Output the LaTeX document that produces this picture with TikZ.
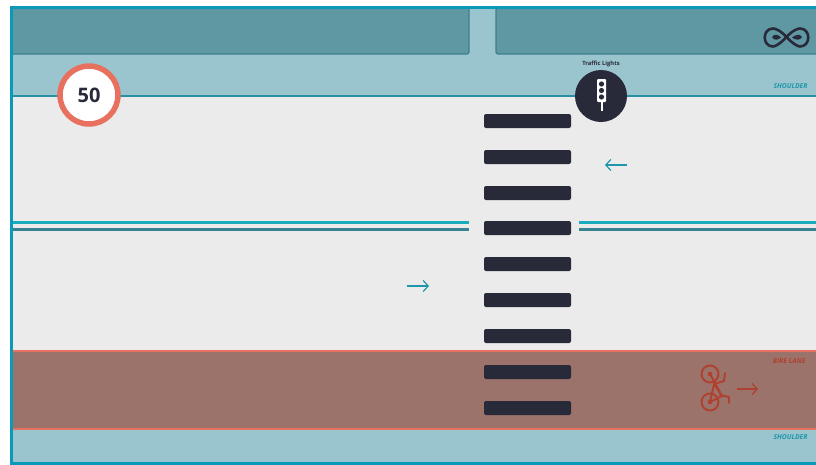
\documentclass[tikz,border=0pt]{standalone}
\usepackage{fontspec}
\setmainfont{Open Sans}
\usepackage{xcolor}
\usetikzlibrary{arrows.meta}
\definecolor{frameteal}{HTML}{0A9AB8}
\definecolor{verge}{HTML}{5F97A3}
\definecolor{vergeedge}{HTML}{3C7F8C}
\definecolor{shoulderfill}{HTML}{9AC5CE}
\definecolor{roadfill}{HTML}{EBEBEB}
\definecolor{bikefill}{HTML}{9B736B}
\definecolor{bikeedge}{HTML}{E8705F}
\definecolor{bikeink}{HTML}{B0402F}
\definecolor{barink}{HTML}{282A3A}
\definecolor{laneteal}{HTML}{1E97AB}
\tikzset{
    zebrabar/.style={fill=barink,rounded corners=2pt},
    lanearrow/.style={-{Straight Barb[length=5pt,width=11pt]},draw=laneteal,line width=1.2pt},
    tag/.style={font=\bfseries\itshape\fontsize{6.8}{7}\selectfont,anchor=east},
}
\begin{document}
\begin{tikzpicture}[x=1pt,y=-1pt]
            \useasboundingbox (0,0) rectangle (816,464);
            \fill[shoulderfill] (11,8) rectangle (816,462);
            \fill[roadfill] (11,96) rectangle (816,351);
            % verge panels
            \draw[fill=verge,draw=vergeedge,line width=1.2pt,rounded corners=2pt] (10,8) -- (469,8) -- (469,54) -- (10,54);
            \draw[fill=verge,draw=vergeedge,line width=1.2pt,rounded corners=2pt] (817,8) -- (496,8) -- (496,54) -- (817,54);
            \draw[laneteal!70!vergeedge,line width=2pt] (11,96) -- (816,96);
            % bike lane
            \fill[bikefill] (11,351) rectangle (816,429);
            \draw[bikeedge,line width=2.6pt] (11,351) -- (816,351);
            \draw[bikeedge,line width=2.6pt] (11,429) -- (816,429);
            % centre lines
            \foreach \xa/\xb in {11/469,579/816} {
                \draw[laneteal!80!cyan,line width=3pt] (\xa,222.5) -- (\xb,222.5);
                \draw[vergeedge!80!laneteal,line width=3pt] (\xa,229.5) -- (\xb,229.5);
            }
            % frame
            \draw[frameteal,line width=3pt] (817,7) -- (11,7) -- (11,463) -- (817,463);
            % zebra crossing
            \foreach \yb in {121,157,193,228,264,300,336,372,408} {
                \fill[zebrabar] (484,\yb-7) rectangle (571,\yb+7);
            }
            % speed sign
            \node[circle,fill=white,draw=bikeedge,line width=5.5pt,minimum size=58pt,inner sep=0pt,
                font=\bfseries\fontsize{20}{20}\selectfont,text=barink] (speedsign) at (89,95) {50};
            % traffic light
            \node[circle,fill=barink,minimum size=52pt,inner sep=0pt] (lightdisc) at (601,96) {};
            \node[font=\bfseries\fontsize{5.8}{6}\selectfont,text=barink] (lightlabel) at (601,64) {Traffic Lights};
            \fill[white,rounded corners=1pt] (597,79) rectangle (606,102);
            \draw[white,line width=2pt] (601.5,102) -- (601.5,111);
            \foreach \yb in {84,90.5,97} {
                \fill[barink] (601.5,\yb) circle (2.6pt);
            }
            % logo
            \begin{scope}[barink,line width=2.6pt]
                \draw (786.5,37) .. controls (780,30) and (775,28.5) .. (773,28.5) .. controls (762,28.5) and (762,46.5) .. (773,46.5) .. controls (775,46.5) and (780,44) .. (786.5,37)
                    .. controls (793,30) and (798,28.5) .. (800,28.5) .. controls (811,28.5) and (811,46.5) .. (800,46.5) .. controls (798,46.5) and (793,44) .. (786.5,37) -- cycle;
                \fill (772,37) .. controls (774,33) and (779,35) .. (781,37.5) .. controls (778,40) and (774,41) .. (772,37) -- cycle;
                \fill (802,37) .. controls (800,33) and (795,35) .. (792,37.5) .. controls (795,40) and (800,41) .. (802,37) -- cycle;
            \end{scope}
            % road labels
            \node[tag,text=laneteal] (shoulderup) at (811,86) {SHOULDER};
            \node[tag,text=laneteal] (shoulderdown) at (811,437) {SHOULDER};
            \node[tag,text=bikeink] (bikelabel) at (809,361) {BIKE LANE};
            % arrows
            \coordinate (westtail) at (627,165);
            \coordinate (westhead) at (605,165);
            \coordinate (easttail) at (407,286);
            \coordinate (easthead) at (429,286);
            \coordinate (biketail) at (737,389);
            \coordinate (bikehead) at (758,389);
            \draw[lanearrow] (westtail) -- (westhead);
            \draw[lanearrow] (easttail) -- (easthead);
            \draw[lanearrow,draw=bikeink] (biketail) -- (bikehead);
            % bike
            \begin{scope}[bikeink,line width=1.9pt,line join=round,line cap=round]
                \draw (710,374) circle (8.5pt);
                \draw (710,402) circle (8.5pt);
                \fill (710,374) circle (2.4pt);
                \fill (710,402) circle (2.4pt);
                \draw (710,374) -- (722,396) -- (710,402) -- (714,384) -- (722,396);
                \draw (714,384) -- (724,381) -- (725,373);
                \draw (720,395) -- (729,397) -- (729,403);
            \end{scope}
        \end{tikzpicture}
\end{document}
